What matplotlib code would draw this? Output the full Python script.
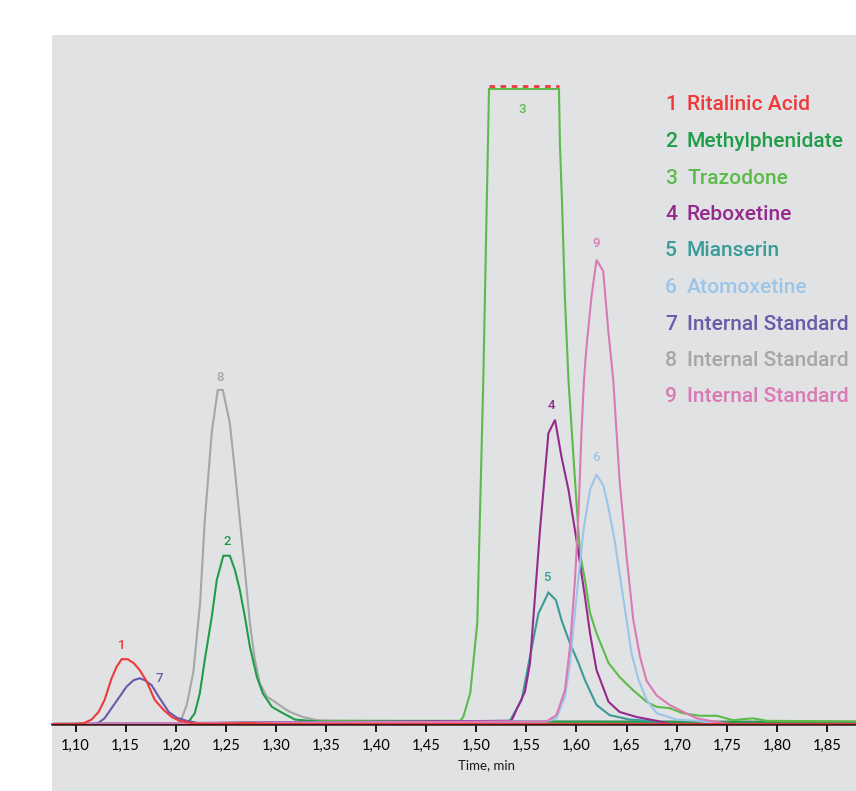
import matplotlib
matplotlib.use('Agg')
import matplotlib.pyplot as plt
import matplotlib.patches as mpatches
import numpy as np

BG = '#e1e2e3'
LEGEND_FONT = ['Roboto', 'DejaVu Sans']
TICK_FONT = ['Lato', 'DejaVu Sans']

# ---- chromatogram traces (time in min, relative intensity, 100 = detector limit) ----
rit_t = [1.078, 1.098, 1.108, 1.116, 1.123, 1.129, 1.136, 1.141, 1.146, 1.152, 1.158, 1.164,
         1.171, 1.179, 1.188, 1.196, 1.204, 1.218, 1.237, 1.27, 1.30, 1.879]
rit_i = [0, 0, 0.1, 0.7, 1.9, 3.8, 7.2, 9.0, 10.2, 10.2, 9.6, 8.5,
         6.7, 3.8, 2.2, 1.1, 0.5, 0.1, 0, 0.15, 0, 0]

mph_t = [1.078, 1.210, 1.214, 1.219, 1.224, 1.229, 1.236, 1.241, 1.2475, 1.254, 1.259, 1.264,
         1.269, 1.274, 1.281, 1.287, 1.296, 1.307, 1.319, 1.334, 1.344, 1.879]
mph_i = [0, 0, 0.6, 1.7, 4.8, 10.1, 16.9, 22.7, 26.5, 26.5, 24.3, 21.1,
         16.9, 12.2, 7.4, 4.8, 2.7, 1.7, 0.7, 0.5, 0.4, 0.3]

traz_t = [1.078, 1.30, 1.36, 1.484, 1.487, 1.494, 1.501, 1.507, 1.5127, 1.5825, 1.5835, 1.5855,
          1.5885, 1.592, 1.5985, 1.6035, 1.6085, 1.6135, 1.620, 1.632, 1.643, 1.656, 1.670,
          1.680, 1.693, 1.706, 1.723, 1.740, 1.756, 1.776, 1.790, 1.879]
traz_i = [0, 0, 0.5, 0.5, 1.1, 4.9, 15.9, 54.2, 100, 100, 91.2, 82.5,
          66.8, 54.2, 38.4, 26.9, 22.7, 17.5, 14.3, 9.6, 7.4, 5.4, 3.5,
          2.7, 2.5, 1.7, 1.3, 1.3, 0.6, 0.9, 0.5, 0.4]

rebox_t = [1.078, 1.535, 1.5486, 1.5536, 1.5636, 1.572, 1.5786, 1.585, 1.592, 1.600, 1.6085,
           1.6135, 1.620, 1.632, 1.643, 1.660, 1.680, 1.693, 1.879]
rebox_i = [0, 0.5, 5.1, 9.6, 30.6, 45.8, 47.9, 42.1, 36.9, 29.0, 20.0,
           14.3, 8.5, 3.5, 1.9, 1.1, 0.5, 0, 0]

mian_t = [1.078, 1.5336, 1.5453, 1.5536, 1.562, 1.572, 1.5795, 1.585, 1.5935, 1.602, 1.6085,
          1.620, 1.633, 1.653, 1.673, 1.693, 1.879]
mian_i = [0, 0.5, 3.8, 10.6, 17.4, 20.7, 19.5, 16.4, 12.7, 9.6, 6.9,
          3.0, 1.4, 0.7, 0.5, 0, 0]

atom_t = [1.078, 1.570, 1.580, 1.5885, 1.5935, 1.600, 1.607, 1.6135, 1.620, 1.6267, 1.6317,
          1.638, 1.645, 1.650, 1.655, 1.662, 1.670, 1.680, 1.700, 1.720, 1.743, 1.879]
atom_i = [0, 0.4, 0.9, 4.3, 9.6, 20.0, 30.6, 36.9, 39.3, 37.6, 34.2,
          29.0, 21.6, 16.4, 11.1, 6.9, 3.8, 1.7, 0.7, 0.5, 0, 0]

is7_t = [1.078, 1.1145, 1.123, 1.129, 1.136, 1.144, 1.151, 1.158, 1.164, 1.169, 1.176,
         1.183, 1.193, 1.201, 1.211, 1.224, 1.24, 1.879]
is7_i = [0, 0, 0.2, 0.9, 2.5, 4.3, 5.9, 6.9, 7.2, 6.9, 6.1,
         4.3, 1.9, 1.0, 0.5, 0.1, 0, 0]

is8_t = [1.078, 1.1966, 1.2026, 1.206, 1.211, 1.2176, 1.2243, 1.229, 1.236, 1.242, 1.247,
         1.254, 1.259, 1.264, 1.269, 1.274, 1.279, 1.284, 1.291, 1.299, 1.306, 1.314,
         1.327, 1.341, 1.364, 1.47, 1.879]
is8_i = [0, 0, 0.2, 0.9, 3.0, 8.2, 19.0, 32.1, 46.0, 52.6, 52.6,
         47.4, 40.0, 32.1, 24.3, 15.9, 10.1, 6.4, 4.3, 3.5, 2.7, 1.9,
         1.1, 0.6, 0.5, 0.45, 0.4]

is9_t = [1.078, 1.570, 1.580, 1.5885, 1.5935, 1.5985, 1.602, 1.605, 1.6075, 1.610, 1.615,
         1.620, 1.6267, 1.6317, 1.6367, 1.643, 1.650, 1.6567, 1.6634, 1.670, 1.680, 1.693,
         1.7066, 1.720, 1.7365, 1.753, 1.879]
is9_i = [0, 0.4, 1.4, 5.3, 12.1, 22.7, 33.0, 46.0, 54.2, 59.4, 67.3,
         73.1, 71.3, 62.0, 54.2, 38.4, 26.4, 16.4, 10.6, 6.8, 4.5, 3.0,
         1.9, 0.9, 0.4, 0, 0]

names = ['Ritalinic Acid', 'Methylphenidate', 'Trazodone', 'Reboxetine', 'Mianserin',
         'Atomoxetine', 'Internal Standard', 'Internal Standard', 'Internal Standard']
colors = ['#ee3a3a', '#1f9d48', '#5cbb4a', '#952a8e', '#3a9b98',
          '#9cc5ea', '#6b5aa8', '#a6a6a6', '#da79b6']

# peak label positions (time, intensity)
label_t = [1.1464, 1.2511, 1.5455, 1.5755, 1.5705, 1.6194, 1.1834, 1.2441, 1.6194]
label_i = [12.4, 28.8, 96.7, 50.2, 23.0, 41.9, 7.2, 54.6, 75.7]

traces = [(rit_t, rit_i), (mph_t, mph_i), (traz_t, traz_i), (rebox_t, rebox_i),
          (mian_t, mian_i), (atom_t, atom_i), (is7_t, is7_i), (is8_t, is8_i), (is9_t, is9_i)]

fig = plt.figure(figsize=(8.56, 7.91), dpi=100)
fig.patch.set_facecolor('white')
fig.patches.append(mpatches.Rectangle((52 / 856, 0), 1 - 52 / 856, (791 - 35) / 791,
                                      transform=fig.transFigure, facecolor=BG,
                                      edgecolor='none', zorder=-5))

ax = fig.add_axes([52 / 856, 67 / 791, 1 - 52 / 856, (724 - 35) / 791])
ax.set_facecolor('none')
ax.set_zorder(2)

# draw order: internal standards first, red last near baseline
order = [7, 1, 6, 2, 4, 3, 5, 8, 0]
for n, k in enumerate(order):
    t, i = traces[k]
    ax.plot(t, i, color=colors[k], lw=1.5, solid_joinstyle='miter', zorder=3 + n * 0.01)

# saturated trazodone top marked with red dashes
traz_arr = np.array(traz_i)
sat = np.array(traz_t)[traz_arr >= 100]
ax.plot([sat.min(), sat.max()], [100.4, 100.4], color='#ee3a3a', lw=2.0,
        linestyle=(0, (2.0, 2.0)), gapcolor=BG, zorder=5)

for k in range(9):
    ax.text(label_t[k], label_i[k], str(k + 1), color=colors[k], fontsize=9.5,
            fontweight='medium', family=LEGEND_FONT, ha='center', va='center', zorder=6)

# legend font size chosen so the longest name fits the space the reference gives it
renderer = fig.canvas.get_renderer()
probe = fig.text(0, 0, 'Internal Standard', family=LEGEND_FONT, fontsize=20,
                 fontweight='medium')
w = probe.get_window_extent(renderer).width
probe.remove()
leg_size = min(22, 20 * 162 / w)

for k in range(9):
    y = 1 - (105 - 35 + k * 36.5) / (724 - 35)
    ax.text((665 - 52) / 804, y, str(k + 1), color=colors[k], fontsize=leg_size,
            fontweight='medium', family=LEGEND_FONT, ha='left', va='center',
            transform=ax.transAxes)
    ax.text((687 - 52) / 804, y, names[k], color=colors[k], fontsize=leg_size,
            fontweight='medium', family=LEGEND_FONT, ha='left', va='center',
            transform=ax.transAxes)

ax.set_xlim(1.0765, 1.879)
ax.set_ylim(0, 108.5)
ticks = np.arange(1.10, 1.851, 0.05)
ax.set_xticks(ticks)
ax.set_xticklabels([f'{v:.2f}'.replace('.', ',') for v in ticks], family=TICK_FONT,
                   fontsize=10.5)
ax.tick_params(axis='x', direction='out', length=6, width=1.4, color='#1a1a1a', pad=5)
ax.set_yticks([])
for s in ['top', 'right', 'left']:
    ax.spines[s].set_visible(False)
ax.spines['bottom'].set_color('#3a1a1a')
ax.spines['bottom'].set_linewidth(1.8)
ax.spines['bottom'].set_zorder(2)

ax.text(1.51, -6.5, 'Time, min', family=TICK_FONT, fontsize=9.5, ha='center', va='center',
        color='#1a1a1a', transform=ax.transData, clip_on=False)

fig.savefig('out.png', dpi=100, facecolor='white')
plt.close()
